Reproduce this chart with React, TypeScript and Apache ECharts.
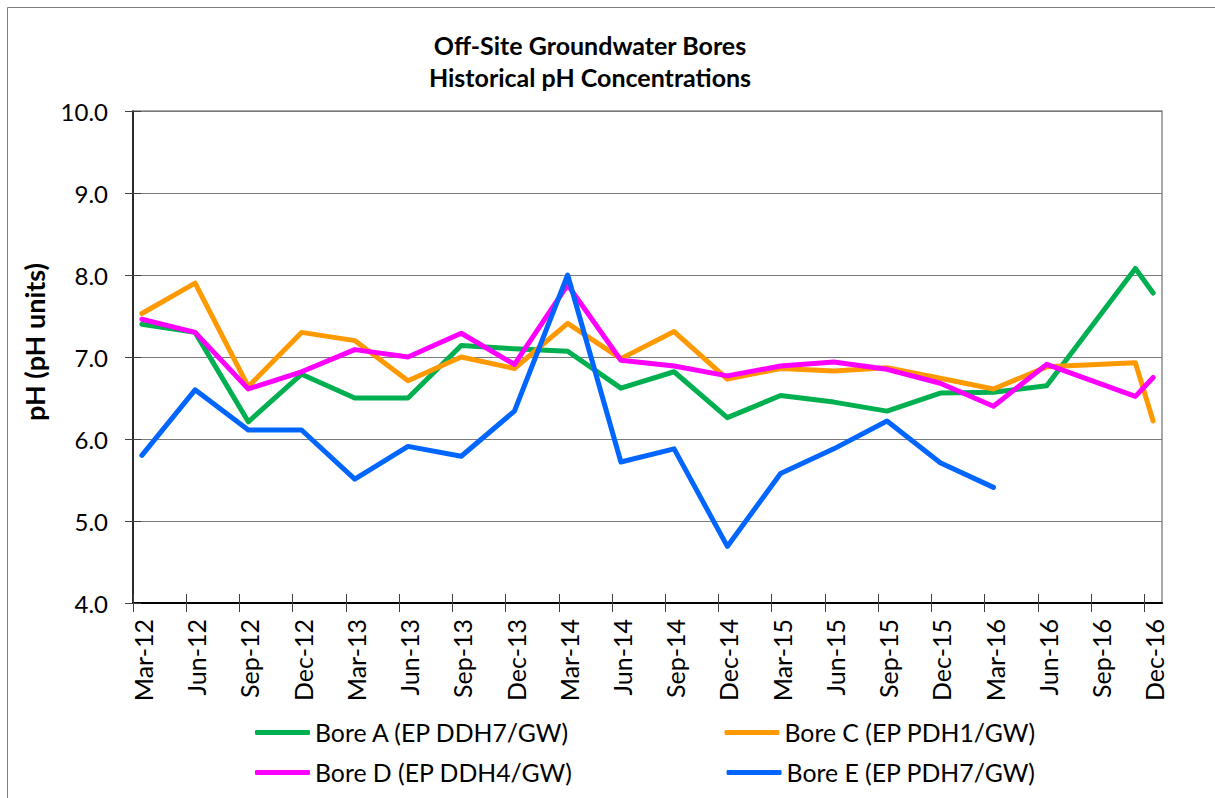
import React, { useEffect, useRef } from "react";
import * as echarts from "echarts";

// Axis tick labels (quarterly)
const tickLabels = [
  "Mar-12", "Jun-12", "Sep-12", "Dec-12",
  "Mar-13", "Jun-13", "Sep-13", "Dec-13",
  "Mar-14", "Jun-14", "Sep-14", "Dec-14",
  "Mar-15", "Jun-15", "Sep-15", "Dec-15",
  "Mar-16", "Jun-16", "Sep-16", "Dec-16",
];

// Sampling months (YYYY-MM)
const sampleDates = [
  "2012-03", "2012-06", "2012-09", "2012-12",
  "2013-03", "2013-06", "2013-09", "2013-12",
  "2014-03", "2014-06", "2014-09", "2014-12",
  "2015-03", "2015-06", "2015-09", "2015-12",
  "2016-03", "2016-06", "2016-11", "2016-12",
];

const boreA = [7.40, 7.30, 6.21, 6.79, 6.50, 6.50, 7.14, 7.10, 7.07, 6.62, 6.82, 6.26, 6.53, 6.45, 6.34, 6.56, 6.57, 6.65, 8.08, 7.78];
const boreC = [7.53, 7.90, 6.64, 7.30, 7.20, 6.71, 7.00, 6.86, 7.41, 6.98, 7.31, 6.73, 6.86, 6.83, 6.87, 6.74, 6.61, 6.88, 6.93, 6.22];
const boreD = [7.46, 7.30, 6.61, 6.82, 7.09, 7.00, 7.29, 6.91, 7.88, 6.96, 6.89, 6.77, 6.89, 6.94, 6.85, 6.68, 6.40, 6.91, 6.52, 6.75];
const boreE = [5.80, 6.60, 6.11, 6.11, 5.51, 5.91, 5.79, 6.34, 8.00, 5.72, 5.88, 4.69, 5.58, 5.88, 6.22, 5.71, 5.41, null, null, null];

const seriesNames = [
  "Bore A (EP DDH7/GW)",
  "Bore C (EP PDH1/GW)",
  "Bore D (EP DDH4/GW)",
  "Bore E (EP PDH7/GW)",
];
const seriesData = [boreA, boreC, boreD, boreE];
const seriesColors = ["#00B050", "#FF9900", "#FF00FF", "#0066FF"];

const FONT = "Lato";

// months since Mar-2012, plotted at mid-month
const monthPos = (d: string) => {
  const [y, m] = d.split("-").map(Number);
  return (y - 2012) * 12 + (m - 3) + 0.5;
};
const tickValues = tickLabels.map((_, i) => i * 3);

export default function App() {
  const ref = useRef<HTMLDivElement>(null);

  useEffect(() => {
    if (!ref.current) return;
    const chart = echarts.init(ref.current, undefined, { renderer: "svg" });

    const labelFmt = (v: number) => {
      const i = Math.round(v / 3);
      return Math.abs(v - i * 3) < 1e-6 && tickLabels[i] ? tickLabels[i] : "";
    };

    const X_MAX = 58;
    const LABEL_SHIFT = 0.56; // months, nudges rotated labels right of their tick

    const legendCommon = {
      orient: "horizontal",
      left: 250,
      icon: "roundRect",
      itemWidth: 55,
      itemHeight: 5,
      itemGap: 154,
      itemTextGap: 1,
      textStyle: { fontSize: 24.8, fontFamily: FONT, color: "#000" },
    };

    const option: any = {
      animation: false,
      backgroundColor: "#ffffff",
      textStyle: { fontFamily: FONT },
      title: {
        text: "Off-Site Groundwater Bores\nHistorical pH Concentrations",
        left: 590,
        top: 29,
        textAlign: "center",
        padding: 0,
        textStyle: {
          fontFamily: FONT,
          fontWeight: "bold",
          fontSize: 25,
          lineHeight: 32,
          color: "#000",
        },
      },
      graphic: [
        {
          type: "rect",
          silent: true,
          shape: { x: 7.5, y: 7.5, width: 1240, height: 820 },
          style: { fill: "transparent", stroke: "#7f7f7f", lineWidth: 1 },
        },
      ],
      grid: {
        left: 133,
        top: 111,
        right: 53,
        bottom: 195,
        show: true,
        borderColor: "#8c8c8c",
        borderWidth: 1.5,
        backgroundColor: "transparent",
      },
      xAxis: [
        {
          type: "value",
          min: 0,
          max: X_MAX,
          interval: 3,
          position: "bottom",
          axisLine: { show: true, lineStyle: { color: "#000", width: 2 } },
          axisTick: {
            show: true,
            inside: false,
            length: 9,
            customValues: tickValues,
            lineStyle: { color: "#404040", width: 1 },
          },
          axisLabel: { show: false },
          splitLine: { show: false },
        },
        {
          type: "value",
          min: 0,
          max: X_MAX,
          interval: 3,
          position: "bottom",
          axisLine: { show: false },
          axisTick: {
            show: true,
            inside: true,
            length: 9,
            customValues: tickValues,
            lineStyle: { color: "#404040", width: 1 },
          },
          axisLabel: { show: false },
          splitLine: { show: false },
        },
        {
          type: "value",
          min: -LABEL_SHIFT,
          max: X_MAX - LABEL_SHIFT,
          position: "bottom",
          axisLine: { show: false },
          axisTick: { show: false },
          axisLabel: {
            customValues: tickValues,
            rotate: 90,
            margin: 16,
            formatter: labelFmt,
            fontSize: 25,
            fontFamily: FONT,
            color: "#000",
          },
          splitLine: { show: false },
        },
      ],
      yAxis: [
        {
          type: "value",
          min: 4,
          max: 10,
          interval: 1,
          position: "left",
          axisLine: { show: true, lineStyle: { color: "#000", width: 1.5 } },
          axisTick: { show: true, length: 8, lineStyle: { color: "#404040" } },
          axisLabel: {
            formatter: (v: number) => v.toFixed(1),
            fontSize: 24,
            fontFamily: FONT,
            color: "#000",
            margin: 25,
          },
          splitLine: { show: true, lineStyle: { color: "#7a7a7a", width: 1 } },
          name: "pH (pH units)",
          nameLocation: "middle",
          nameGap: 85,
          nameTextStyle: {
            fontFamily: FONT,
            fontWeight: "bold",
            fontSize: 27,
            color: "#000",
            padding: [0, 0, 0, 30],
          },
        },
        {
          type: "value",
          min: 4,
          max: 10,
          interval: 1,
          position: "left",
          axisLine: { show: false },
          axisTick: { show: true, inside: true, length: 8, lineStyle: { color: "#404040" } },
          axisLabel: { show: false },
          splitLine: { show: false },
        },
      ],
      legend: [
        { ...legendCommon, data: [seriesNames[0], seriesNames[1]], top: 715 },
        { ...legendCommon, data: [seriesNames[2], seriesNames[3]], top: 755 },
      ],
      series: seriesNames.map((name, i) => ({
        type: "line",
        name,
        xAxisIndex: 0,
        yAxisIndex: 0,
        symbol: "none",
        showSymbol: false,
        color: seriesColors[i],
        lineStyle: { width: 5, color: seriesColors[i], cap: "round", join: "round" },
        data: seriesData[i]
          .map((v, j) => (v == null ? null : [monthPos(sampleDates[j]), v]))
          .filter((p) => p !== null),
      })),
    };

    chart.setOption(option);
    return () => chart.dispose();
  }, []);

  return (
    <div
      ref={ref}
      style={{ position: "absolute", left: 0, top: 0, width: 1215, height: 798 }}
    />
  );
}
